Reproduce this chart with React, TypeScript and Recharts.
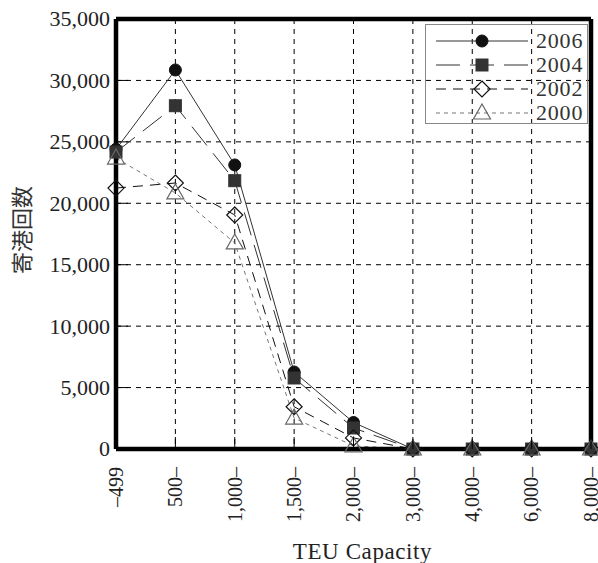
import React from 'react';
import { LineChart, Line, XAxis, YAxis, CartesianGrid, ReferenceLine } from 'recharts';

const categories = ['–499', '500–', '1,000–', '1,500–', '2,000–', '3,000–', '4,000–', '6,000–', '8,000–'];
const s2006 = [24400, 30850, 23120, 6270, 2160, 0, 0, 0, 0];
const s2004 = [24170, 27940, 21840, 5780, 1710, 0, 0, 0, 0];
const s2002 = [21240, 21650, 19050, 3440, 900, 0, 0, 0, 0];
const s2000 = [23680, 20840, 16770, 2520, 250, 0, 0, 0, 0];
const yTicks = [0, 5000, 10000, 15000, 20000, 25000, 30000, 35000];
const xTicks = [0, 1, 2, 3, 4, 5, 6, 7, 8];

const data = categories.map((c, i) => ({
  idx: i,
  cat: c,
  y2006: s2006[i],
  y2004: s2004[i],
  y2002: s2002[i],
  y2000: s2000[i],
}));

const SERIF = '"Liberation Serif", "DejaVu Serif", serif';
const X_MARGIN = 18;
const Y_MARGIN = 6;

type MarkerKind = 'circle' | 'square' | 'diamond' | 'triangle';

const Marker = ({ kind, cx, cy }: { kind: MarkerKind; cx: number; cy: number }) => {
  if (kind === 'circle') return <circle cx={cx} cy={cy} r={6} fill="#111" stroke="#111" />;
  if (kind === 'square') return <rect x={cx - 6} y={cy - 6} width={12} height={12} fill="#333" stroke="#333" />;
  if (kind === 'diamond')
    return (
      <path
        d={`M${cx},${cy - 8}L${cx + 8},${cy}L${cx},${cy + 8}L${cx - 8},${cy}Z`}
        fill="none"
        stroke="#111"
        strokeWidth={1.2}
      />
    );
  return (
    <path
      d={`M${cx},${cy - 9}L${cx + 8.5},${cy + 6}L${cx - 8.5},${cy + 6}Z`}
      fill="none"
      stroke="#666"
      strokeWidth={1.2}
    />
  );
};

const series = [
  { key: 'y2006', name: '2006', kind: 'circle' as MarkerKind, stroke: '#333', dash: undefined as string | undefined, width: 1 },
  { key: 'y2004', name: '2004', kind: 'square' as MarkerKind, stroke: '#333', dash: '24 10', width: 1 },
  { key: 'y2002', name: '2002', kind: 'diamond' as MarkerKind, stroke: '#111', dash: '10 7', width: 1 },
  { key: 'y2000', name: '2000', kind: 'triangle' as MarkerKind, stroke: '#777', dash: '4 4', width: 1 },
];

const fmt = (v: number) => v.toLocaleString('en-US');

const YTick = (props: any) => {
  const { x, y, payload } = props;
  return (
    <g>
      <line x1={x + Y_MARGIN} x2={x + Y_MARGIN + 12} y1={y} y2={y} stroke="#000" strokeWidth={1} />
      <text x={x} y={y} dy="0.34em" textAnchor="end" fontFamily={SERIF} fontSize={22} fill="#222">
        {fmt(payload.value)}
      </text>
    </g>
  );
};

const XTick = (props: any) => {
  const { x, y, payload } = props;
  const label = categories[payload.value];
  return (
    <g>
      <line x1={x} x2={x} y1={y - X_MARGIN} y2={y - X_MARGIN - 12} stroke="#000" strokeWidth={1} />
      <text
        x={x}
        y={y}
        dy="0.34em"
        textAnchor="end"
        transform={`rotate(-90, ${x}, ${y})`}
        fontFamily={SERIF}
        fontSize={20}
        fill="#222"
      >
        {label}
      </text>
    </g>
  );
};

const LegendBox = () => (
  <div
    style={{
      position: 'absolute',
      left: 425,
      top: 24,
      width: 163,
      height: 100,
      border: '1px solid #888',
      boxSizing: 'border-box',
    }}
  >
    <svg width={163} height={100}>
      {series.map((s, i) => {
        const cy = 16 + i * 24;
        return (
          <g key={s.key}>
            <line x1={10} x2={102} y1={cy} y2={cy} stroke={s.stroke} strokeDasharray={s.dash} strokeWidth={1} />
            <Marker kind={s.kind} cx={56} cy={cy} />
            <text x={110} y={cy} dy="0.34em" fontFamily={SERIF} fontSize={22} letterSpacing={0.8} fill="#333">
              {s.name}
            </text>
          </g>
        );
      })}
    </svg>
  </div>
);

export default function App() {
  return (
    <div style={{ position: 'absolute', left: 0, top: 0, width: 598, height: 563, background: '#fff' }}>
      <LineChart width={598} height={563} data={data} margin={{ top: 19, right: 7, bottom: 0, left: 0 }}>
        <CartesianGrid stroke="#000" strokeDasharray="5 5" strokeWidth={1} />
        <XAxis
          dataKey="idx"
          type="number"
          domain={[0, 8]}
          ticks={xTicks}
          interval={0}
          height={114}
          tickSize={0}
          tickMargin={X_MARGIN}
          tickLine={false}
          axisLine={{ stroke: '#000', strokeWidth: 4.5 }}
          tick={<XTick />}
          label={{
            content: (p: any) => {
              const vb = p.viewBox;
              return (
                <text
                  x={vb.x + vb.width / 2 + 9}
                  y={559}
                  textAnchor="middle"
                  fontFamily={SERIF}
                  fontSize={23}
                  letterSpacing={0.6}
                  fill="#222"
                >
                  TEU Capacity
                </text>
              );
            },
          }}
        />
        <YAxis
          type="number"
          domain={[0, 35000]}
          ticks={yTicks}
          interval={0}
          width={116}
          tickSize={0}
          tickMargin={Y_MARGIN}
          tickLine={false}
          axisLine={{ stroke: '#000', strokeWidth: 4.5 }}
          tick={<YTick />}
          label={{
            content: (p: any) => {
              const vb = p.viewBox;
              const cx = 22;
              const cy = vb.y + vb.height / 2 - 4;
              return (
                <text
                  x={cx}
                  y={cy}
                  dy="0.36em"
                  textAnchor="middle"
                  transform={`rotate(-90, ${cx}, ${cy})`}
                  fontFamily='"Noto Sans CJK JP", sans-serif'
                  fontSize={22}
                  fill="#333"
                >
                  寄港回数
                </text>
              );
            },
          }}
        />
        <ReferenceLine x={8} stroke="#000" strokeWidth={4.5} />
        <ReferenceLine y={35000} stroke="#000" strokeWidth={4.5} />
        {series.map((s) => (
          <Line
            key={s.key}
            dataKey={s.key}
            name={s.name}
            type="linear"
            stroke={s.stroke}
            strokeWidth={s.width}
            strokeDasharray={s.dash}
            isAnimationActive={false}
            dot={(p: any) => <Marker key={`${s.key}-${p.index}`} kind={s.kind} cx={p.cx} cy={p.cy} />}
            activeDot={false}
          />
        ))}
      </LineChart>
      <LegendBox />
    </div>
  );
}
